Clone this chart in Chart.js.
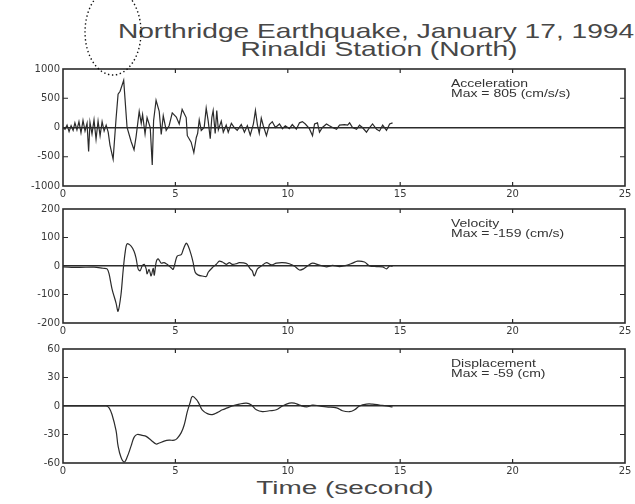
<!DOCTYPE html>
<html>
<head>
<meta charset="utf-8">
<title>Northridge Earthquake, Rinaldi Station (North)</title>
<script src="https://cdn.jsdelivr.net/npm/chart.js@4.4.1/dist/chart.umd.min.js"></script>
<style>
  html, body { margin: 0; padding: 0; background: #fff; }
  #page { position: relative; width: 635px; height: 504px; overflow: hidden; background: #fff; }
  canvas.panel { position: absolute; left: 0; }
  #marks { position: absolute; left: 0; top: 0; pointer-events: none; }
  .ttl {
    position: absolute; white-space: nowrap; text-align: center;
    font-family: "Liberation Sans", Arial, sans-serif; color: #474747;
    transform-origin: center center;
  }
</style>
</head>
<body>
<div id="page">
  <div class="ttl" style="left:76px;width:600px;top:20px;font-size:21px;line-height:21px;transform:scaleX(1.34);">Northridge Earthquake, January 17, 1994</div>
  <div class="ttl" style="left:79px;width:600px;top:38px;font-size:21px;line-height:21px;transform:scaleX(1.34);">Rinaldi Station (North)</div>
  <canvas class="panel" id="accChart" width="635" height="140" style="top:60px"></canvas>
  <canvas class="panel" id="velChart" width="635" height="137" style="top:200px"></canvas>
  <canvas class="panel" id="dispChart" width="635" height="137" style="top:340px"></canvas>
  <div class="ttl" style="left:195px;width:300px;top:479px;font-size:18px;line-height:18px;transform:scaleX(1.55);">Time (second)</div>
  <canvas id="marks" width="635" height="504"></canvas>
</div>

<script>
// ---- Ground motion records (time in seconds) ----
const accTime = [0, 0.09, 0.18, 0.27, 0.36, 0.45, 0.53, 0.62, 0.71, 0.80, 0.89, 0.98, 1.07, 1.14, 1.20, 1.29, 1.38, 1.47, 1.56, 1.65, 1.74, 1.83, 1.92, 2.01, 2.09, 2.23, 2.36, 2.45, 2.54, 2.70, 2.85, 3.03, 3.16, 3.25, 3.39, 3.48, 3.54, 3.65, 3.74, 3.88, 3.97, 4.03, 4.14, 4.28, 4.37, 4.46, 4.59, 4.72, 4.86, 5.04, 5.17, 5.30, 5.48, 5.53, 5.70, 5.82, 5.93, 5.99, 6.06, 6.15, 6.28, 6.37, 6.46, 6.55, 6.62, 6.68, 6.77, 6.84, 6.91, 7.04, 7.13, 7.26, 7.35, 7.49, 7.62, 7.75, 7.93, 8.07, 8.20, 8.33, 8.47, 8.56, 8.65, 8.73, 8.82, 8.91, 9.05, 9.18, 9.31, 9.45, 9.63, 9.76, 9.89, 10.07, 10.20, 10.38, 10.52, 10.65, 10.78, 10.96, 11.10, 11.19, 11.32, 11.41, 11.54, 11.72, 11.85, 11.99, 12.17, 12.30, 12.52, 12.66, 12.75, 12.88, 13.06, 13.19, 13.32, 13.50, 13.64, 13.77, 13.95, 14.08, 14.22, 14.39, 14.53, 14.66];
const accValues = [0, -30, 40, -70, 30, -50, 80, -40, 100, -90, 120, -60, 70, -410, 90, -110, 130, -200, 110, -140, 100, -60, 40, -80, -300, -540, 150, 570, 620, 805, 0, -240, -380, -160, 275, 70, 220, -110, 170, 0, -640, 115, 465, 275, -120, 200, -50, 30, 250, 180, 60, 310, 170, -140, -250, -430, -170, -100, 130, -50, 0, 330, 110, -190, 170, 290, -100, 290, -40, 110, -80, 40, -80, 70, 0, -50, 50, -80, 30, -130, 60, 290, 40, -100, 160, 30, -140, 50, 100, 0, 60, -20, 30, -20, 50, -30, 80, 100, 60, -20, -140, 60, 80, -80, 0, 60, 30, 0, -30, 40, 50, 40, 80, 0, -30, 40, 0, -80, 0, 60, -30, -60, 40, -50, 60, 80];

const velTime = [0, 0.71, 1.38, 1.78, 1.96, 2.05, 2.18, 2.36, 2.45, 2.58, 2.67, 2.76, 2.85, 3.03, 3.16, 3.25, 3.34, 3.43, 3.52, 3.61, 3.70, 3.74, 3.83, 3.92, 4.01, 4.06, 4.14, 4.23, 4.37, 4.50, 4.63, 4.81, 4.90, 4.99, 5.08, 5.26, 5.35, 5.48, 5.57, 5.70, 5.79, 5.88, 6.02, 6.19, 6.37, 6.46, 6.64, 6.82, 6.95, 7.09, 7.26, 7.40, 7.53, 7.71, 7.84, 8.16, 8.33, 8.42, 8.51, 8.65, 8.82, 9.05, 9.27, 9.49, 9.76, 10.07, 10.29, 10.52, 10.70, 10.87, 11.10, 11.41, 11.72, 11.99, 12.30, 12.61, 12.88, 13.10, 13.41, 13.64, 13.95, 14.22, 14.39, 14.53, 14.66];
const velValues = [-3, -5, -4, -8, -10, -28, -80, -130, -159, -100, -20, 45, 78, 70, 52, 28, -10, -17, 0, 6, -10, -28, -12, -35, -8, -32, 12, 25, 10, 12, 6, -6, -12, 12, 35, 40, 58, 80, 70, 40, 12, -22, -32, -35, -37, -22, -6, 6, 17, 14, 6, 12, 6, 8, 12, 8, -10, -17, -35, -10, 0, 12, 4, 10, 12, 8, 0, -14, -10, 0, 10, 3, -3, 2, -2, 2, 10, 17, 14, 0, -2, -3, -10, 0, -1];

const dispTime = [0, 1.60, 1.92, 2.05, 2.18, 2.36, 2.45, 2.58, 2.72, 2.85, 3.03, 3.16, 3.30, 3.52, 3.70, 3.92, 4.14, 4.28, 4.50, 4.72, 4.95, 5.08, 5.26, 5.39, 5.53, 5.66, 5.75, 5.93, 6.06, 6.19, 6.42, 6.64, 6.86, 7.09, 7.31, 7.53, 7.84, 8.16, 8.38, 8.60, 8.87, 9.18, 9.49, 9.76, 10.07, 10.29, 10.52, 10.83, 11.10, 11.41, 11.72, 12.17, 12.43, 12.75, 12.97, 13.19, 13.50, 13.77, 14.08, 14.39, 14.66];
const dispValues = [0, 0, 0, -2, -9, -26, -42, -54, -59, -54, -42, -33, -30, -31, -32, -36, -40, -39, -37, -36, -36, -34, -28, -20, -6, 4, 10, 7, 2, -4, -8, -9, -7, -4, -2, 0, 2, 3, 1, -4, -6, -5, -4, 0, 3, 3, 1, -1, 1, 0, -1, -2, -5, -6, -4, 0, 2, 2, 1, 0, -1];

// Axis ticks
const timeTicks = [0, 5, 10, 15, 20, 25];
const accTicks = [-1000, -500, 0, 500, 1000];
const velTicks = [-200, -100, 0, 100, 200];
const dispTicks = [-60, -30, 0, 30, 60];

const INK = '#2b2b2b';
const LABEL = '#3a3a3a';

// Value with the largest magnitude, for the "Max =" note
function peak(values) {
  return values.reduce((a, b) => (Math.abs(b) > Math.abs(a) ? b : a), 0);
}

// Plot frame with inward tick marks, like the original strip-chart plots
const framePlugin = {
  id: 'frame',
  afterDatasetsDraw(chart) {
    const { ctx, chartArea: a, scales } = chart;
    ctx.save();
    ctx.strokeStyle = INK;
    ctx.lineWidth = 1.6;
    ctx.strokeRect(a.left, a.top, a.right - a.left, a.bottom - a.top);
    ctx.lineWidth = 1.2;
    ctx.beginPath();
    timeTicks.slice(1, -1).forEach(t => {
      const px = scales.x.getPixelForValue(t);
      ctx.moveTo(px, a.top); ctx.lineTo(px, a.top + 4);
      ctx.moveTo(px, a.bottom); ctx.lineTo(px, a.bottom - 4);
    });
    const yt = chart.options.plugins.frame.yTicks;
    [yt[1], yt[3]].forEach(v => {
      const py = scales.y.getPixelForValue(v);
      ctx.moveTo(a.left, py); ctx.lineTo(a.left + 5, py);
      ctx.moveTo(a.right, py); ctx.lineTo(a.right - 5, py);
    });
    ctx.stroke();
    ctx.restore();
  }
};

// Two-line caption in the upper right of each plot
const notePlugin = {
  id: 'note',
  afterDraw(chart) {
    const { ctx, chartArea: a } = chart;
    const lines = chart.options.plugins.note.lines;
    ctx.save();
    ctx.fillStyle = '#333';
    ctx.font = '10px "Liberation Sans", Arial, sans-serif';
    ctx.textBaseline = 'middle';
    lines.forEach((txt, i) => {
      ctx.save();
      ctx.translate(a.left + 388, a.top + 15 + i * 10.5);
      ctx.scale(1.4, 1);
      ctx.fillText(txt, 0, 0);
      ctx.restore();
    });
    ctx.restore();
  }
};

function makePanel(id, times, values, yTicks, tension, lines) {
  const step = yTicks[1] - yTicks[0];
  return new Chart(document.getElementById(id), {
    type: 'line',
    data: {
      datasets: [{
        data: times.map((t, i) => ({ x: t, y: values[i] })),
        borderColor: INK,
        borderWidth: 1.2,
        pointRadius: 0,
        tension: tension,
        fill: false
      }]
    },
    options: {
      responsive: false,
      animation: false,
      devicePixelRatio: 1,
      layout: { padding: { top: 7, left: 0, right: 10, bottom: 0 } },
      plugins: {
        legend: { display: false },
        tooltip: { enabled: false },
        frame: { yTicks: yTicks },
        note: { lines: lines }
      },
      scales: {
        x: {
          type: 'linear',
          min: timeTicks[0],
          max: timeTicks[timeTicks.length - 1],
          afterBuildTicks: s => { s.ticks = timeTicks.map(v => ({ value: v })); },
          ticks: {
            color: LABEL, padding: 2, maxRotation: 0,
            callback: v => String(v),
            font: { family: '"DejaVu Sans", sans-serif', size: 10 }
          },
          grid: { display: false, drawTicks: false, tickLength: 0 },
          border: { display: false },
          afterFit: s => { s.height = 14; }
        },
        y: {
          min: yTicks[0],
          max: yTicks[yTicks.length - 1],
          afterBuildTicks: s => { s.ticks = yTicks.map(v => ({ value: v })); },
          ticks: {
            color: LABEL, padding: 3,
            callback: v => String(v),
            font: { family: '"DejaVu Sans", sans-serif', size: 10 }
          },
          grid: {
            drawTicks: false,
            lineWidth: 1.5,
            color: c => (c.tick && c.tick.value === 0 ? INK : 'rgba(0,0,0,0)')
          },
          border: { display: false },
          afterFit: s => { s.width = 63; }
        }
      }
    },
    plugins: [framePlugin, notePlugin]
  });
}

makePanel('accChart', accTime, accValues, accTicks, 0,
  ['Acceleration', 'Max = ' + peak(accValues) + ' (cm/s/s)']);
makePanel('velChart', velTime, velValues, velTicks, 0.3,
  ['Velocity', 'Max = ' + peak(velValues) + ' (cm/s)']);
makePanel('dispChart', dispTime, dispValues, dispTicks, 0.4,
  ['Displacement', 'Max = ' + peak(dispValues) + ' (cm)']);

// Dotted pen loop drawn over the top-left corner of the sheet
const mk = document.getElementById('marks').getContext('2d');
mk.save();
mk.strokeStyle = '#111';
mk.lineWidth = 1.4;
mk.setLineDash([1.4, 2.6]);
mk.beginPath();
mk.ellipse(113, 32, 28, 43, 0, 0, Math.PI * 2);
mk.stroke();
mk.restore();
</script>
</body>
</html>
